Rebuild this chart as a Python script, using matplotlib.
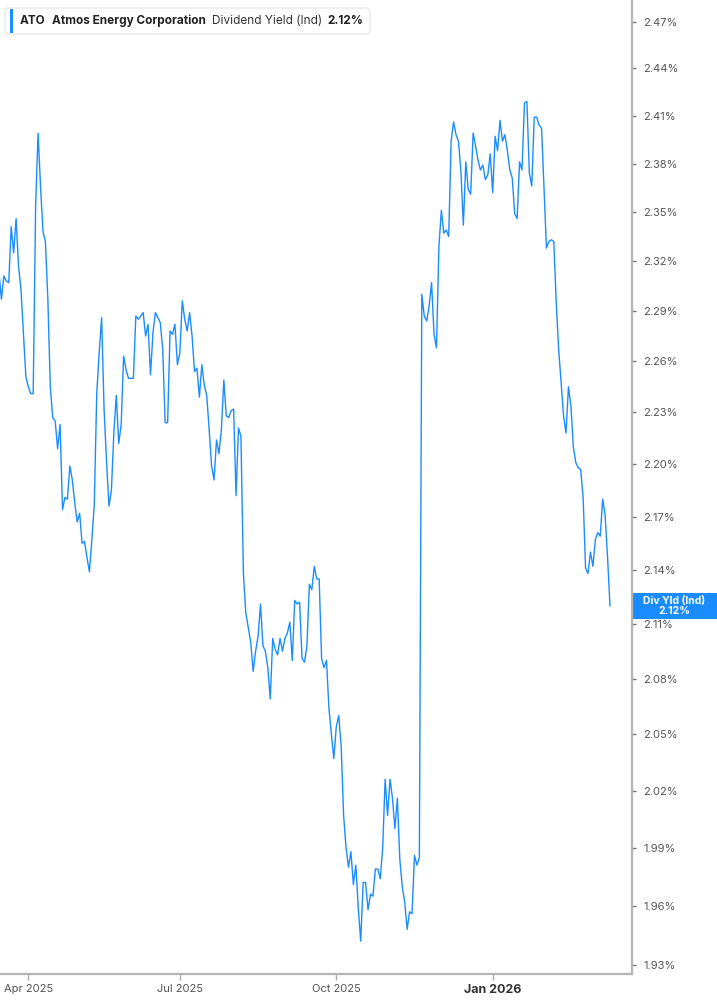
import numpy as np
import pandas as pd
import matplotlib
matplotlib.use('Agg')
import matplotlib.pyplot as plt
import matplotlib.transforms as mtransforms
from matplotlib.patches import FancyBboxPatch, Rectangle
from matplotlib.ticker import FixedLocator, FuncFormatter, NullLocator

plt.rcParams['font.family'] = ['Inter', 'DejaVu Sans']

# header / label text
ticker = 'ATO'
company = 'Atmos Energy Corporation'
metric = 'Dividend Yield (Ind)'
metric_short = 'Div Yld (Ind)'

# NYSE trading days, Mar 2025 - Mar 2026
holidays = ['2025-04-18', '2025-05-26', '2025-06-19', '2025-07-04', '2025-09-01',
            '2025-11-27', '2025-12-25', '2026-01-01', '2026-01-19', '2026-02-16']
dates = pd.bdate_range('2025-03-14', '2026-03-13', freq='C', holidays=holidays)

# dividend yield (%), one value per trading day
div_yield = [
    2.313, 2.297, 2.311, 2.308, 2.307, 2.341, 2.325, 2.346, 2.317, 2.303,
    2.277, 2.251, 2.245, 2.241, 2.241, 2.354, 2.399, 2.366, 2.338, 2.332,
    2.297, 2.245, 2.227, 2.225, 2.209, 2.223, 2.174, 2.181, 2.180, 2.199,
    2.191, 2.178, 2.167, 2.172, 2.155, 2.156, 2.147, 2.139, 2.157, 2.177,
    2.241, 2.265, 2.286, 2.232, 2.202, 2.176, 2.185, 2.218, 2.240, 2.212,
    2.223, 2.263, 2.255, 2.250,
    2.250, 2.250, 2.287, 2.285, 2.287, 2.289, 2.275, 2.282, 2.252, 2.277,
    2.289, 2.286, 2.283, 2.267, 2.224, 2.224, 2.278, 2.276, 2.282, 2.258,
    2.265, 2.296, 2.285, 2.278, 2.289, 2.275, 2.254, 2.256, 2.239, 2.258,
    2.246, 2.240, 2.220, 2.199, 2.191, 2.214, 2.206, 2.220, 2.249, 2.228,
    2.227, 2.231, 2.232, 2.182, 2.221, 2.216, 2.138, 2.116, 2.108, 2.100,
    2.084,
    2.095, 2.103, 2.121, 2.098, 2.095, 2.086, 2.069, 2.102, 2.096, 2.093,
    2.102, 2.095, 2.102, 2.105, 2.111, 2.090, 2.123, 2.121, 2.122, 2.091,
    2.089, 2.098, 2.132, 2.129, 2.142, 2.135, 2.135, 2.091, 2.086, 2.090,
    2.064, 2.050, 2.037, 2.054, 2.060, 2.044, 2.007, 1.990, 1.980, 1.988,
    1.971, 1.981, 1.959, 1.942, 1.972, 1.972, 1.958, 1.966, 1.965, 1.979,
    1.979, 1.974,
    1.990, 2.026, 2.007, 2.026, 2.016, 2.000, 2.016, 1.984, 1.970, 1.962,
    1.948, 1.957, 1.956, 1.986, 1.981, 1.985,
    2.300, 2.287, 2.284, 2.293, 2.307, 2.276, 2.268, 2.329, 2.351, 2.337,
    2.339, 2.335, 2.394, 2.406, 2.398, 2.394, 2.375, 2.342, 2.381, 2.364,
    2.361, 2.399, 2.391, 2.382, 2.376, 2.379, 2.370, 2.373, 2.386, 2.362,
    2.397, 2.388, 2.407,
    2.394, 2.398, 2.388, 2.376, 2.371, 2.349, 2.346, 2.381, 2.376, 2.418,
    2.419, 2.374, 2.366, 2.409, 2.409, 2.404, 2.402, 2.364, 2.328, 2.332,
    2.333, 2.332, 2.295, 2.267, 2.247, 2.228, 2.218, 2.245, 2.234, 2.210,
    2.201, 2.198, 2.197, 2.181, 2.141, 2.138, 2.150, 2.142, 2.157, 2.161,
    2.159, 2.180, 2.171, 2.147, 2.120,
]

y_ticks = np.round(np.arange(1.93, 2.471, 0.03), 2)
tick_months = ['2025-04-01', '2025-07-01', '2025-10-01', '2026-01-01']

n = min(len(dates), len(div_yield))
dates = dates[:n]
div_yield = np.array(div_yield[:n])
x = np.arange(n)

line_color = '#1a8cff'
W, H = 717, 1005

fig = plt.figure(figsize=(W / 100, H / 100), dpi=100)
ax = fig.add_axes([0, (H - 974) / H, 632 / W, 974 / H])

ax.plot(x, div_yield, color=line_color, lw=1.0)

ax.set_yscale('log')
ax.set_ylim(1.9254, 2.484)
ax.set_xlim(0.42, 259.0)

# right-hand y axis
ax.yaxis.tick_right()
ax.yaxis.set_major_locator(FixedLocator(y_ticks))
ax.yaxis.set_minor_locator(NullLocator())
ax.yaxis.set_major_formatter(FuncFormatter(lambda v, p: f'{v:.2f}%'))
ax.yaxis.set_minor_formatter(FuncFormatter(lambda v, p: ''))
ax.tick_params(axis='y', length=3, width=1, color='#777777', labelcolor='#555555',
               labelsize=8, pad=5)

# x axis: first trading day of each quarter
tick_pos = [int(np.argmax(dates >= pd.Timestamp(m))) for m in tick_months]
tick_lbl = [dates[p].strftime('%b %Y') for p in tick_pos]
ax.set_xticks(tick_pos)
ax.set_xticklabels(tick_lbl)
ax.tick_params(axis='x', length=4, width=1, color='#aaaaaa', labelcolor='#555555',
               labelsize=8, pad=3)
for p, lab in zip(tick_pos, ax.get_xticklabels()):
    if dates[p].month == 1:
        lab.set_fontweight('bold')
        lab.set_color('#333333')
        lab.set_fontsize(9)

for s in ['top', 'left']:
    ax.spines[s].set_visible(False)
for s in ['right', 'bottom']:
    ax.spines[s].set_color('#b5b5b5')
    ax.spines[s].set_linewidth(1.6)

# last value tag on the right axis
blend = mtransforms.blended_transform_factory(ax.transAxes, ax.transData)
tag_tr = fig.dpi_scale_trans + mtransforms.ScaledTranslation(1.0, div_yield[-1], blend)
ax.add_patch(Rectangle((0.0, -0.13), 0.85, 0.26, transform=tag_tr,
                       facecolor=line_color, edgecolor='none', clip_on=False))
ax.text(0.425, 0.0, f'{metric_short}\n{div_yield[-1]:.2f}%', transform=tag_tr,
        ha='center', va='center', color='white', fontsize=7.5, fontweight='bold',
        linespacing=1.0, clip_on=False)

# header box
def fx(px):
    return px / W

def fy(py):
    return 1 - py / H

fig.patches.append(FancyBboxPatch((fx(5), fy(34)), fx(365), 26 / H,
                                  boxstyle='round,pad=0,rounding_size=0.004',
                                  transform=fig.transFigure, facecolor='white',
                                  edgecolor='#e4e4e4', lw=0.8))
fig.patches.append(Rectangle((fx(10), fy(33)), fx(3), 24 / H, transform=fig.transFigure,
                             facecolor=line_color, edgecolor='none'))
hy = fy(20.5)
fig.text(fx(20), hy, ticker, fontsize=8.5, fontweight='bold', color='#222222', va='center')
fig.text(fx(52), hy, company, fontsize=8.5, fontweight='bold', color='#222222', va='center')
fig.text(fx(212), hy, metric, fontsize=8.5, color='#333333', va='center')
fig.text(fx(327), hy, f'{div_yield[-1]:.2f}%', fontsize=8.5, fontweight='bold',
         color='#222222', va='center')

fig.savefig('out.png', dpi=100)
